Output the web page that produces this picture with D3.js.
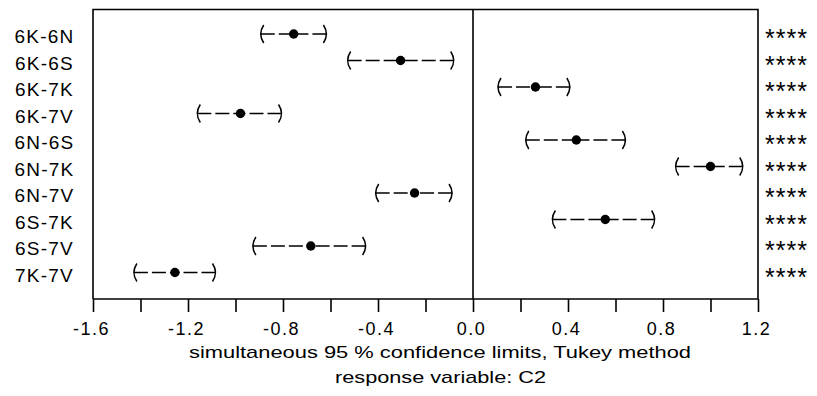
<!DOCTYPE html>
<html>
<head>
<meta charset="utf-8">
<script src="https://cdn.jsdelivr.net/npm/d3@7"></script>
<style>
  html, body { margin: 0; padding: 0; background: #fff; }
  svg { display: block; }
  text { font-family: "Liberation Sans", Arial, sans-serif; fill: #000; }
</style>
</head>
<body>
<svg id="chart" width="817" height="396"></svg>
<script>
const comparisons = ["6K-6N","6K-6S","6K-7K","6K-7V","6N-6S","6N-7K","6N-7V","6S-7K","6S-7V","7K-7V"];
const estimates   = [-0.755, -0.305, 0.263, -0.979, 0.435, 1.000, -0.246, 0.557, -0.683, -1.255];
const lowerLimits = [-0.898, -0.532, 0.101, -1.165, 0.218, 0.849, -0.414, 0.330, -0.931, -1.432];
const upperLimits = [-0.613, -0.077, 0.412, -0.802, 0.646, 1.140, -0.084, 0.769, -0.448, -1.080];
const significance = ["****","****","****","****","****","****","****","****","****","****"];
const majorTicks = [-1.6, -1.2, -0.8, -0.4, 0.0, 0.4, 0.8, 1.2];
const minorTicks = [-1.6, -1.4, -1.2, -1.0, -0.8, -0.6, -0.4, -0.2, 0.0, 0.2, 0.4, 0.6, 0.8, 1.0, 1.2];
const titleLines = ["simultaneous  95 % confidence limits, Tukey method", "response variable: C2"];

const svg = d3.select("#chart");
const plotLeft = 93, plotRight = 758, plotTop = 9.5, axisY = 299;

const x = d3.scaleLinear().domain([-1.6, 1.2]).range([plotLeft, plotRight]);
const y = d3.scalePoint().domain(comparisons).range([34, 272.5]);

const rows = comparisons.map((c, i) => ({
  name: c, est: estimates[i], lo: lowerLimits[i], hi: upperLimits[i], sig: significance[i]
}));

// frame (top, left, right)
svg.append("path")
  .attr("d", `M${plotLeft},${axisY} L${plotLeft},${plotTop} L${plotRight},${plotTop} L${plotRight},${axisY}`)
  .attr("fill", "none").attr("stroke", "#000").attr("stroke-width", 1.6);

// zero reference line
svg.append("line")
  .attr("x1", x(0)).attr("x2", x(0)).attr("y1", plotTop).attr("y2", axisY)
  .attr("stroke", "#000").attr("stroke-width", 1.6);

// x axis
const axis = d3.axisBottom(x).tickValues(minorTicks).tickSize(13).tickFormat("");
const gAxis = svg.append("g").attr("transform", `translate(0,${axisY})`).call(axis);
gAxis.select(".domain").attr("stroke-width", 1.6).attr("d", `M${plotLeft},0H${plotRight}`);
gAxis.selectAll(".tick line").attr("stroke-width", 1.6);

svg.append("g").selectAll("text").data(majorTicks).join("text")
  .attr("x", d => x(d) - 1.5)
  .attr("y", 335)
  .attr("text-anchor", "middle")
  .style("font-size", "18px")
  .style("letter-spacing", "1.5px")
  .text(d => d3.format(".1f")(d).replace("−", "-"));

// titles
svg.append("text").attr("x", 189).attr("y", 358)
  .style("font-size", "17px")
  .attr("textLength", 502).attr("lengthAdjust", "spacingAndGlyphs")
  .text(titleLines[0]);
svg.append("text").attr("x", 335).attr("y", 383)
  .style("font-size", "17px")
  .attr("textLength", 211).attr("lengthAdjust", "spacingAndGlyphs")
  .text(titleLines[1]);

// row labels
svg.append("g").selectAll("text").data(rows).join("text")
  .attr("x", 44.5)
  .attr("y", d => y(d.name) + 9)
  .attr("text-anchor", "middle")
  .style("font-size", "19px")
  .style("letter-spacing", "1.2px")
  .text(d => d.name);

// significance flags
svg.append("g").selectAll("text").data(rows).join("text")
  .attr("x", 765)
  .attr("y", d => y(d.name) + 13)
  .style("font-size", "25px")
  .style("letter-spacing", "1px")
  .text(d => d.sig);

// intervals
const g = svg.append("g");
rows.forEach(d => {
  const yy = y(d.name), xl = x(d.lo), xh = x(d.hi), xc = x(d.est);
  g.append("line").attr("x1", xl + 1).attr("x2", xc).attr("y1", yy).attr("y2", yy)
    .attr("stroke", "#000").attr("stroke-width", 1.6).attr("stroke-dasharray", "14,4");
  g.append("line").attr("x1", xh - 1).attr("x2", xc).attr("y1", yy).attr("y2", yy)
    .attr("stroke", "#000").attr("stroke-width", 1.6).attr("stroke-dasharray", "14,4");
  g.append("path")
    .attr("d", `M${xl + 4},${yy - 9} Q${xl - 2},${yy} ${xl + 4},${yy + 9}`)
    .attr("fill", "none").attr("stroke", "#000").attr("stroke-width", 1.5);
  g.append("path")
    .attr("d", `M${xh - 4},${yy - 9} Q${xh + 2},${yy} ${xh - 4},${yy + 9}`)
    .attr("fill", "none").attr("stroke", "#000").attr("stroke-width", 1.5);
  g.append("circle").attr("cx", xc).attr("cy", yy).attr("r", 4.7).attr("fill", "#000");
});
</script>
</body>
</html>
